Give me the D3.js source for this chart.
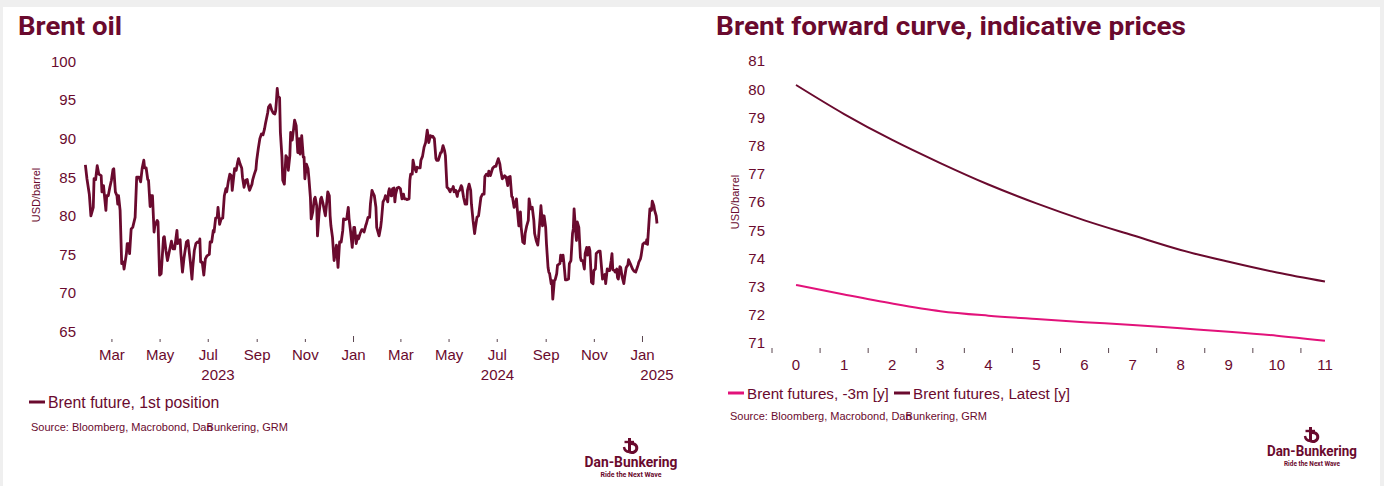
<!DOCTYPE html>
<html>
<head>
<meta charset="utf-8">
<script src="https://cdn.jsdelivr.net/npm/d3@7"></script>
<style>
  html, body { margin: 0; padding: 0; background: #efefef; }
  svg { display: block; }
</style>
</head>
<body>
<svg id="chart" width="1384" height="486"></svg>
<script>
// ---- Brent front-month future, USD/barrel ----
const brentDates = [
  "2023-01-27","2023-01-29","2023-02-01","2023-02-03","2023-02-06","2023-02-07","2023-02-09","2023-02-11","2023-02-13","2023-02-16",
  "2023-02-17","2023-02-19","2023-02-20","2023-02-22","2023-02-23","2023-02-25","2023-02-27","2023-03-01","2023-03-03","2023-03-04",
  "2023-03-06","2023-03-08","2023-03-09","2023-03-10","2023-03-12","2023-03-14","2023-03-16","2023-03-17","2023-03-20","2023-03-21",
  "2023-03-23","2023-03-24","2023-03-26","2023-03-28","2023-03-31","2023-04-02","2023-04-05","2023-04-07","2023-04-09","2023-04-11",
  "2023-04-12","2023-04-14","2023-04-16","2023-04-17","2023-04-19","2023-04-20","2023-04-22","2023-04-24","2023-04-25","2023-04-28",
  "2023-04-29","2023-05-01","2023-05-03","2023-05-06","2023-05-07","2023-05-09","2023-05-11","2023-05-13","2023-05-16","2023-05-18",
  "2023-05-20","2023-05-23","2023-05-24","2023-05-27","2023-05-28","2023-05-30","2023-06-01","2023-06-04","2023-06-06","2023-06-09",
  "2023-06-11","2023-06-12","2023-06-14","2023-06-16","2023-06-18","2023-06-20","2023-06-21","2023-06-22","2023-06-24","2023-06-26",
  "2023-06-28","2023-06-30","2023-07-03","2023-07-04","2023-07-06","2023-07-08","2023-07-09","2023-07-11","2023-07-13","2023-07-14",
  "2023-07-16","2023-07-18","2023-07-20","2023-07-22","2023-07-24","2023-07-25","2023-07-27","2023-07-29","2023-07-31","2023-08-01",
  "2023-08-04","2023-08-06","2023-08-08","2023-08-09","2023-08-11","2023-08-13","2023-08-14","2023-08-16","2023-08-18","2023-08-20",
  "2023-08-21","2023-08-23","2023-08-26","2023-08-27","2023-08-29","2023-08-31","2023-09-01","2023-09-03","2023-09-05","2023-09-07",
  "2023-09-09","2023-09-11","2023-09-12","2023-09-15","2023-09-16","2023-09-18","2023-09-20","2023-09-22","2023-09-24","2023-09-25",
  "2023-09-26","2023-09-27","2023-09-28","2023-09-30","2023-10-01","2023-10-03","2023-10-04","2023-10-06","2023-10-08","2023-10-10",
  "2023-10-11","2023-10-13","2023-10-14","2023-10-16","2023-10-18","2023-10-19","2023-10-21","2023-10-23","2023-10-25","2023-10-26",
  "2023-10-28","2023-10-30","2023-10-31","2023-11-01","2023-11-03","2023-11-05","2023-11-06","2023-11-08","2023-11-09","2023-11-11",
  "2023-11-13","2023-11-14","2023-11-16","2023-11-17","2023-11-19","2023-11-21","2023-11-22","2023-11-24","2023-11-26","2023-11-27",
  "2023-11-29","2023-11-30","2023-12-02","2023-12-03","2023-12-04","2023-12-06","2023-12-08","2023-12-10","2023-12-11","2023-12-13",
  "2023-12-15","2023-12-17","2023-12-19","2023-12-20","2023-12-22","2023-12-24","2023-12-26","2023-12-27","2023-12-29","2023-12-31",
  "2024-01-02","2024-01-03","2024-01-05","2024-01-07","2024-01-08","2024-01-10","2024-01-12","2024-01-13","2024-01-15","2024-01-17",
  "2024-01-18","2024-01-20","2024-01-22","2024-01-23","2024-01-25","2024-01-27","2024-01-28","2024-01-30","2024-01-31","2024-02-03",
  "2024-02-05","2024-02-06","2024-02-08","2024-02-10","2024-02-11","2024-02-13","2024-02-14","2024-02-15","2024-02-16","2024-02-18",
  "2024-02-19","2024-02-20","2024-02-22","2024-02-23","2024-02-24","2024-02-26","2024-02-28","2024-03-01","2024-03-03","2024-03-05",
  "2024-03-06","2024-03-08","2024-03-09","2024-03-12","2024-03-13","2024-03-14","2024-03-16","2024-03-17","2024-03-19","2024-03-21",
  "2024-03-22","2024-03-24","2024-03-26","2024-03-27","2024-03-29","2024-03-31","2024-04-02","2024-04-04","2024-04-05","2024-04-06",
  "2024-04-08","2024-04-10","2024-04-11","2024-04-13","2024-04-15","2024-04-16","2024-04-18","2024-04-21","2024-04-22","2024-04-24",
  "2024-04-26","2024-04-27","2024-04-29","2024-05-01","2024-05-03","2024-05-04","2024-05-06","2024-05-07","2024-05-08","2024-05-10",
  "2024-05-12","2024-05-13","2024-05-15","2024-05-17","2024-05-18","2024-05-20","2024-05-22","2024-05-24","2024-05-25","2024-05-27",
  "2024-05-29","2024-05-30","2024-06-01","2024-06-03","2024-06-04","2024-06-06","2024-06-08","2024-06-10","2024-06-11","2024-06-13",
  "2024-06-15","2024-06-16","2024-06-18","2024-06-20","2024-06-21","2024-06-23","2024-06-25","2024-06-26","2024-06-28","2024-06-30",
  "2024-07-01","2024-07-03","2024-07-05","2024-07-06","2024-07-08","2024-07-10","2024-07-11","2024-07-13","2024-07-15","2024-07-16",
  "2024-07-18","2024-07-20","2024-07-21","2024-07-23","2024-07-24","2024-07-26","2024-07-27","2024-07-29","2024-07-31","2024-08-01",
  "2024-08-03","2024-08-05","2024-08-06","2024-08-08","2024-08-10","2024-08-11","2024-08-13","2024-08-15","2024-08-17","2024-08-18",
  "2024-08-20","2024-08-22","2024-08-23","2024-08-25","2024-08-26","2024-08-28","2024-08-30","2024-09-01","2024-09-02","2024-09-04",
  "2024-09-05","2024-09-06","2024-09-08","2024-09-09","2024-09-10","2024-09-12","2024-09-13","2024-09-15","2024-09-16","2024-09-19",
  "2024-09-20","2024-09-21","2024-09-23","2024-09-24","2024-09-26","2024-09-28","2024-09-30","2024-10-01","2024-10-03","2024-10-05",
  "2024-10-06","2024-10-07","2024-10-09","2024-10-10","2024-10-11","2024-10-13","2024-10-15","2024-10-16","2024-10-18","2024-10-20",
  "2024-10-21","2024-10-23","2024-10-24","2024-10-26","2024-10-27","2024-10-29","2024-10-31","2024-11-01","2024-11-03","2024-11-04",
  "2024-11-07","2024-11-09","2024-11-10","2024-11-12","2024-11-13","2024-11-15","2024-11-16","2024-11-18","2024-11-19","2024-11-21",
  "2024-11-23","2024-11-24","2024-11-25","2024-11-27","2024-11-28","2024-11-30","2024-12-01","2024-12-02","2024-12-04","2024-12-05",
  "2024-12-07","2024-12-09","2024-12-10","2024-12-12","2024-12-14","2024-12-15","2024-12-18","2024-12-20","2024-12-22","2024-12-24",
  "2024-12-26","2024-12-27","2024-12-28","2024-12-30","2024-12-31","2025-01-02","2025-01-04","2025-01-06","2025-01-07","2025-01-08",
  "2025-01-10","2025-01-11","2025-01-13","2025-01-14","2025-01-16","2025-01-17","2025-01-19","2025-01-20"
];
const brentPrices = [
  86.6,84.8,82.8,80.0,81.1,84.8,84.7,86.5,85.4,85.2,
  83.1,83.9,82.8,80.7,82.6,82.6,83.7,84.6,86.0,86.1,
  83.1,82.6,81.5,82.6,80.7,73.8,74.0,73.1,75.1,76.4,
  76.4,75.1,78.3,78.5,79.8,85.0,85.0,84.4,86.2,87.2,
  86.2,86.2,84.7,84.6,81.2,82.6,82.6,77.9,78.7,79.4,
  79.2,72.3,72.5,77.2,77.3,75.5,74.2,75.2,76.7,75.7,
  75.7,78.1,76.4,76.9,75.1,72.7,74.6,76.6,76.8,74.0,
  71.8,73.3,75.5,76.4,76.6,76.5,77.0,74.0,74.0,72.3,
  74.4,74.8,75.0,76.6,76.6,78.1,77.9,79.7,79.8,81.1,
  78.9,79.6,79.7,82.6,83.5,83.1,84.4,85.4,85.2,83.3,
  86.1,85.9,87.0,87.4,86.7,86.2,85.0,83.7,84.6,84.7,
  84.1,83.3,84.1,84.7,85.4,86.0,87.2,88.7,90.0,90.6,
  90.5,91.3,91.9,93.4,94.1,94.4,93.7,93.3,93.2,93.6,
  94.9,96.5,95.5,95.3,90.8,87.6,84.6,84.1,87.8,87.4,
  85.9,87.8,90.8,89.8,91.5,92.4,91.7,88.2,90.0,88.0,
  90.4,87.6,87.6,84.8,86.7,86.1,85.0,82.4,79.6,80.5,
  82.2,82.4,81.3,77.4,80.3,82.2,82.4,81.6,80.5,80.0,
  82.0,83.1,82.6,80.0,78.7,77.2,74.2,75.5,76.2,73.3,
  76.6,76.6,78.1,79.6,79.5,79.6,81.1,79.6,77.9,75.9,
  78.5,78.5,76.4,77.4,77.0,77.7,78.2,78.2,77.9,78.7,
  79.0,79.8,79.8,81.5,83.3,82.8,82.6,81.1,78.5,77.4,
  78.5,79.4,81.8,82.2,82.6,82.2,81.8,83.1,83.5,82.6,
  82.6,83.5,83.6,81.8,82.8,83.6,83.7,83.5,82.2,82.8,
  82.2,82.2,82.1,82.2,84.6,85.4,85.4,87.2,86.2,85.7,
  86.3,86.2,86.2,87.2,87.7,88.9,89.5,91.1,90.4,89.5,
  90.4,90.2,90.3,90.0,87.4,87.2,87.2,88.2,88.2,89.1,
  88.4,87.8,83.7,83.5,83.1,83.4,83.5,83.8,83.1,83.3,
  82.5,83.1,83.3,83.9,83.7,82.4,81.5,81.5,83.3,84.1,
  83.3,81.5,79.4,77.7,78.5,79.8,80.0,81.6,82.4,82.8,
  82.8,85.1,85.4,85.2,85.8,85.2,85.9,86.2,86.4,86.4,
  86.8,87.4,86.7,85.9,84.8,85.0,85.2,85.0,83.9,85.0,
  85.1,82.5,82.4,81.1,81.3,82.2,80.9,78.7,80.5,78.5,
  76.6,76.4,77.7,78.7,79.4,82.2,80.9,81.1,79.4,77.7,
  76.8,76.2,77.2,79.8,81.3,78.7,80.0,78.5,76.4,73.3,
  72.7,72.5,71.2,71.6,69.2,71.6,71.7,72.5,73.6,73.8,
  74.9,74.2,74.9,74.0,71.7,71.7,71.8,73.8,74.2,77.7,
  78.3,80.9,77.9,76.8,79.2,78.5,74.6,74.2,74.2,73.1,
  75.1,75.9,74.9,75.9,75.5,71.4,71.2,72.9,73.1,75.1,
  75.4,75.4,74.2,71.8,72.0,72.4,71.2,73.1,72.9,72.9,
  74.2,75.1,73.0,72.9,72.7,73.1,72.0,71.8,73.4,73.3,
  72.0,71.2,72.0,73.3,73.6,74.3,73.6,73.1,72.8,72.7,
  73.3,73.6,74.0,74.4,74.9,76.3,76.5,76.4,76.9,76.3,
  79.4,80.9,80.7,81.9,81.3,80.7,80.0,79.0
];
const brentTicks = [65, 70, 75, 80, 85, 90, 95, 100];

// ---- Brent forward curve, USD/barrel by years forward ----
const curveYears = [0, 1, 2, 3, 4, 5, 6, 7, 8, 9, 10, 11];
const curveThreeMonthsAgo = [73.06, 72.72, 72.4, 72.13, 71.97, 71.85, 71.74, 71.64, 71.52, 71.4, 71.26, 71.08];
const curveLatest = [80.15, 79.12, 78.2, 77.38, 76.62, 75.95, 75.35, 74.82, 74.3, 73.88, 73.5, 73.18];
const curveTicks = [71, 72, 73, 74, 75, 76, 77, 78, 79, 80, 81];

const MAROON = "#6a0a2e";
const PINK = "#e2127a";
const TEXT_FONT = "'Liberation Sans', Arial, sans-serif";
const TITLE_FONT = "Roboto, 'Liberation Sans', sans-serif";

const svg = d3.select("#chart");
svg.append("rect").attr("x", 3).attr("y", 7).attr("width", 1377).attr("height", 479).attr("fill", "#ffffff");

function addTitle(x, label, width) {
  svg.append("text")
    .attr("x", x).attr("y", 35)
    .attr("font-family", TITLE_FONT).attr("font-weight", 700).attr("font-size", 26)
    .attr("fill", MAROON)
    .attr("textLength", width).attr("lengthAdjust", "spacingAndGlyphs")
    .text(label);
}

function addUnitLabel(x, y) {
  svg.append("text")
    .attr("transform", `translate(${x},${y}) rotate(-90)`)
    .attr("text-anchor", "middle")
    .attr("font-family", TEXT_FONT).attr("font-size", 11)
    .attr("fill", MAROON)
    .text("USD/barrel");
}

function addSource(x, y) {
  const t = svg.append("text")
    .attr("x", x).attr("y", y)
    .attr("font-family", TEXT_FONT).attr("font-size", 11)
    .attr("fill", MAROON);
  t.append("tspan").text("Source: Bloomberg, Macrobond, Dan");
  t.append("tspan").attr("dx", -6).text("Bunkering, GRM");
}

function addLogo(cx, iconTop, nameBase, nameWidth, tagBase, tagWidth) {
  const g = svg.append("g").attr("fill", "none").attr("stroke", MAROON).attr("stroke-linecap", "butt");
  // anchor mark
  g.append("line").attr("x1", cx - 1.5).attr("x2", cx - 1.5).attr("y1", iconTop).attr("y2", iconTop + 14.5).attr("stroke-width", 3);
  g.append("line").attr("x1", cx - 6.5).attr("x2", cx + 3).attr("y1", iconTop + 4).attr("y2", iconTop + 4).attr("stroke-width", 2.4);
  g.append("path")
    .attr("d", `M${cx - 1.5},${iconTop + 6} A5,4.5 0 1 1 ${cx - 1.5},${iconTop + 14}`)
    .attr("stroke-width", 3);
  g.append("path")
    .attr("d", `M${cx - 1.5},${iconTop + 14} Q${cx - 6.5},${iconTop + 13.5} ${cx - 7},${iconTop + 9}`)
    .attr("stroke-width", 2.4);
  svg.append("text")
    .attr("x", cx).attr("y", nameBase).attr("text-anchor", "middle")
    .attr("font-family", TITLE_FONT).attr("font-weight", 700).attr("font-size", 14)
    .attr("fill", MAROON)
    .attr("textLength", nameWidth).attr("lengthAdjust", "spacingAndGlyphs")
    .text("Dan-Bunkering");
  svg.append("text")
    .attr("x", cx).attr("y", tagBase).attr("text-anchor", "middle")
    .attr("font-family", TITLE_FONT).attr("font-weight", 700).attr("font-size", 7.5)
    .attr("fill", MAROON)
    .attr("textLength", tagWidth).attr("lengthAdjust", "spacingAndGlyphs")
    .text("Ride the Next Wave");
}

function styleAxis(g) {
  g.attr("font-family", TEXT_FONT).attr("font-size", 15).attr("color", MAROON);
  g.select(".domain").remove();
}

// =================== Left: Brent oil ===================
addTitle(18, "Brent oil", 104);
addUnitLabel(40, 195);

const parseDay = d3.utcParse("%Y-%m-%d");
const brent = brentDates.map((d, i) => ({ date: parseDay(d), value: brentPrices[i] }));

const xL = d3.scaleUtc().domain([parseDay("2023-01-24"), parseDay("2025-02-08")]).range([83, 672]);
const yL = d3.scaleLinear().domain([65, 100]).range([331.5, 61.5]);

svg.append("g")
  .attr("transform", "translate(83,0)")
  .call(d3.axisLeft(yL).tickValues(brentTicks).tickSize(0).tickPadding(7))
  .call(styleAxis);

const monthTicks = xL.ticks(d3.utcMonth.every(2));
const xAxisL = svg.append("g")
  .attr("transform", "translate(0,342)")
  .call(d3.axisBottom(xL).tickValues(monthTicks).tickFormat(d3.utcFormat("%b")).tickSize(-3).tickPadding(7))
  .call(styleAxis);
xAxisL.selectAll(".tick line")
  .attr("stroke", "#5b4650")
  .attr("y2", d => d.getUTCMonth() === 0 ? -6 : -3);

// year labels centred under the visible part of each year
const [xStart, xEnd] = xL.domain();
[2023, 2024, 2025].forEach(yr => {
  const a = Math.max(+xStart, Date.UTC(yr, 0, 1));
  const b = Math.min(+xEnd, Date.UTC(yr + 1, 0, 1));
  svg.append("text")
    .attr("x", (xL(a) + xL(b)) / 2).attr("y", 379.5)
    .attr("text-anchor", "middle")
    .attr("font-family", TEXT_FONT).attr("font-size", 15)
    .attr("fill", MAROON)
    .text(yr);
});

svg.append("path")
  .datum(brent)
  .attr("fill", "none")
  .attr("stroke", MAROON)
  .attr("stroke-width", 2.8)
  .attr("stroke-linejoin", "round")
  .attr("d", d3.line().x(d => xL(d.date)).y(d => yL(d.value)));

// legend
svg.append("line").attr("x1", 29).attr("x2", 45).attr("y1", 402).attr("y2", 402)
  .attr("stroke", MAROON).attr("stroke-width", 3);
svg.append("text").attr("x", 48).attr("y", 407.5)
  .attr("font-family", TEXT_FONT).attr("font-size", 15.8).attr("fill", MAROON)
  .text("Brent future, 1st position");
addSource(31, 431);
addLogo(631, 438, 466.5, 93, 476.5, 61);

// =================== Right: forward curve ===================
addTitle(716, "Brent forward curve, indicative prices", 470);
addUnitLabel(739, 202);

const xR = d3.scaleBand().domain(curveYears).range([772, 1349]);
const yR = d3.scaleLinear().domain([71, 81]).range([343, 61]);
const mid = d => xR(d) + xR.bandwidth() / 2;

svg.append("g")
  .attr("transform", "translate(772,0)")
  .call(d3.axisLeft(yR).tickValues(curveTicks).tickSize(0).tickPadding(7))
  .call(styleAxis);

const xAxisR = svg.append("g")
  .attr("transform", "translate(0,353)")
  .call(d3.axisBottom(xR).tickSize(0).tickPadding(6))
  .call(styleAxis);
// tick marks sit on the band edges
svg.append("g").selectAll("line")
  .data(curveYears)
  .join("line")
  .attr("x1", d => xR(d)).attr("x2", d => xR(d))
  .attr("y1", 348).attr("y2", 353)
  .attr("stroke", "#5b4650");

const curveLine = d3.line()
  .x((d, i) => mid(curveYears[i]))
  .y(d => yR(d))
  .curve(d3.curveMonotoneX);
svg.append("path").datum(curveThreeMonthsAgo)
  .attr("fill", "none").attr("stroke", PINK).attr("stroke-width", 2)
  .attr("d", curveLine);
svg.append("path").datum(curveLatest)
  .attr("fill", "none").attr("stroke", MAROON).attr("stroke-width", 2)
  .attr("d", curveLine);

// legend
svg.append("line").attr("x1", 728).attr("x2", 744).attr("y1", 393).attr("y2", 393)
  .attr("stroke", PINK).attr("stroke-width", 3);
svg.append("text").attr("x", 747).attr("y", 398.5)
  .attr("font-family", TEXT_FONT).attr("font-size", 15.2).attr("fill", MAROON)
  .text("Brent futures, -3m [y]");
svg.append("line").attr("x1", 894).attr("x2", 910).attr("y1", 393).attr("y2", 393)
  .attr("stroke", MAROON).attr("stroke-width", 3);
svg.append("text").attr("x", 913).attr("y", 398.5)
  .attr("font-family", TEXT_FONT).attr("font-size", 15.2).attr("fill", MAROON)
  .text("Brent futures, Latest [y]");
addSource(730, 420);
addLogo(1312, 427, 455.5, 90, 465.5, 56);
</script>
</body>
</html>
